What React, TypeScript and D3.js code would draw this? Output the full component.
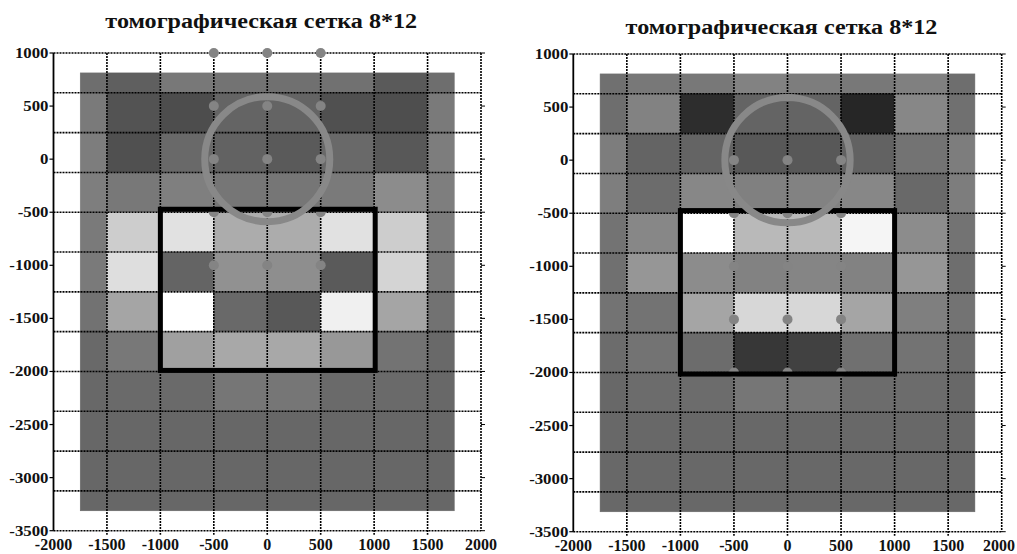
import React from 'react';
import * as d3 from 'd3';

// cell edges of the 8*12 grid (data units)
const colEdges = [-1750, -1500, -1000, -500, 0, 500, 1000, 1500, 1750];
const rowEdges = [812.5, 625, 250, -125, -500, -875, -1250, -1625, -2000, -2375, -2750, -3125, -3312.5];

// dotted grid lines
const gridX = [-1500, -1000, -500, 0, 500, 1000, 1500];
const gridY = [625, 250, -125, -500, -875, -1250, -1625, -2000, -2375, -2750, -3125];

// tick labels
const xTicks = [-2000, -1500, -1000, -500, 0, 500, 1000, 1500, 2000];
const yTicks = [1000, 500, 0, -500, -1000, -1500, -2000, -2500, -3000, -3500];

// gray level of each cell (0 = black, 255 = white), rows top to bottom
const leftCells = [
  [110, 95, 120, 115, 112, 113, 90, 110],
  [122, 83, 77, 100, 100, 80, 78, 122],
  [125, 80, 105, 98, 90, 105, 88, 125],
  [126, 120, 127, 118, 118, 122, 140, 126],
  [122, 205, 225, 172, 172, 225, 205, 124],
  [122, 222, 100, 145, 142, 90, 212, 120],
  [114, 165, 255, 105, 88, 240, 165, 114],
  [105, 120, 160, 168, 168, 152, 115, 105],
  [104, 106, 106, 118, 118, 106, 106, 104],
  [103, 103, 103, 103, 103, 103, 103, 103],
  [103, 103, 103, 103, 103, 103, 103, 103],
  [103, 103, 103, 103, 103, 103, 103, 103],
];

const rightCells = [
  [112, 120, 120, 130, 125, 120, 128, 110],
  [110, 130, 45, 100, 100, 38, 135, 112],
  [125, 100, 100, 88, 88, 98, 115, 125],
  [126, 108, 135, 128, 130, 135, 105, 125],
  [115, 135, 255, 185, 185, 245, 140, 115],
  [112, 150, 140, 130, 133, 130, 150, 110],
  [115, 115, 165, 215, 215, 165, 127, 115],
  [108, 115, 108, 55, 65, 112, 115, 108],
  [104, 108, 108, 118, 118, 108, 108, 104],
  [104, 104, 104, 104, 104, 104, 104, 104],
  [104, 104, 104, 104, 104, 104, 104, 104],
  [104, 104, 104, 104, 104, 104, 104, 104],
];

// receiver points
const dotX = [-500, 0, 500];
const leftDotY = [1000, 500, 0, -500, -1000];
const rightDotY = [0, -500, -1000, -1500, -2000];

// target body outline [x0, x1, yTop, yBottom]
const leftBox = [-1000, 1010, -472, -1990];
const rightBox = [-1000, 1000, -475, -2015];

// circle: center x, center y, radius
const circleDef = [0, 0, 585];

const title = 'томографическая сетка 8*12';

interface PanelProps {
  left: number;
  right: number;
  top: number;
  bottom: number;
  titleY: number;
  cells: number[][];
  dotY: number[];
  box: number[];
}

const font = 'Liberation Serif, Times New Roman, DejaVu Serif, serif';

const Panel: React.FC<PanelProps> = ({ left, right, top, bottom, titleY, cells, dotY, box }) => {
  const x = d3.scaleLinear().domain([-2000, 2000]).range([left, right]);
  const y = d3.scaleLinear().domain([1000, -3500]).range([top, bottom]);
  const dash = '2,1';
  const cx = (left + right) / 2;

  return (
    <g>
      <text
        transform={`translate(${cx - 6},${titleY}) scale(1.15,1)`}
        textAnchor="middle"
        style={{ fontFamily: font, fontWeight: 'bold', fontSize: '21px' }}
        fill="#111"
      >
        {title}
      </text>

      {cells.map((row, i) =>
        row.map((v, j) => (
          <rect
            key={`c${i}-${j}`}
            x={x(colEdges[j])}
            y={y(rowEdges[i])}
            width={x(colEdges[j + 1]) - x(colEdges[j])}
            height={y(rowEdges[i + 1]) - y(rowEdges[i])}
            fill={d3.rgb(v, v, v).toString()}
            stroke={d3.rgb(v, v, v).toString()}
            strokeWidth={0.5}
          />
        ))
      )}

      {gridX.map((g) => (
        <line key={`gx${g}`} x1={x(g)} x2={x(g)} y1={y(1000)} y2={y(-3500) + 4} stroke="#000" strokeWidth={1.6} strokeDasharray={dash} />
      ))}
      {gridY.map((g) => (
        <line key={`gy${g}`} x1={x(-2000)} x2={x(2000)} y1={y(g)} y2={y(g)} stroke="#000" strokeWidth={1.6} strokeDasharray={dash} />
      ))}
      {/* frame */}
      <line x1={x(-2000)} x2={x(2000)} y1={y(1000)} y2={y(1000)} stroke="#000" strokeWidth={1.6} strokeDasharray={dash} />
      <line x1={x(-2000)} x2={x(2000)} y1={y(-3500)} y2={y(-3500)} stroke="#000" strokeWidth={1.6} strokeDasharray={dash} />
      <line x1={x(2000)} x2={x(2000)} y1={y(1000)} y2={y(-3500)} stroke="#000" strokeWidth={1.6} strokeDasharray={dash} />
      <line x1={x(-2000)} x2={x(-2000)} y1={y(1000)} y2={y(-3500)} stroke="#000" strokeWidth={1.8} />

      {yTicks.map((t) => (
        <g key={`yt${t}`}>
          <line x1={x(-2000) - 4} x2={x(-2000)} y1={y(t)} y2={y(t)} stroke="#000" strokeWidth={1.2} />
          <line x1={x(2000)} x2={x(2000) + 4} y1={y(t)} y2={y(t)} stroke="#000" strokeWidth={1} />
          <text
            transform={`translate(${x(-2000) - 5},${y(t) + 5}) scale(1.12,1)`}
            textAnchor="end"
            style={{ fontFamily: font, fontWeight: 'bold', fontSize: '15px' }}
            fill="#111"
          >
            {t}
          </text>
        </g>
      ))}
      {xTicks.map((t) => (
        <text
          key={`xt${t}`}
          transform={`translate(${Math.min(x(t), 999)},${y(-3500) + 19})`}
          textAnchor="middle"
          style={{ fontFamily: font, fontWeight: 'bold', fontSize: '16px' }}
          fill="#111"
        >
          {t}
        </text>
      ))}

      {dotY.map((dy) =>
        dotX.map((dx) => <circle key={`d${dx}_${dy}`} cx={x(dx)} cy={y(dy)} r={5} fill="#848484" />)
      )}

      <rect
        x={x(box[0])}
        y={y(box[2])}
        width={x(box[1]) - x(box[0])}
        height={y(box[3]) - y(box[2])}
        fill="none"
        stroke="#000"
        strokeWidth={5}
      />

      <circle
        cx={x(circleDef[0])}
        cy={y(circleDef[1])}
        r={x(circleDef[2]) - x(0)}
        fill="none"
        stroke="#888"
        strokeWidth={7}
      />
    </g>
  );
};

export default function App() {
  return (
    <svg width={1017} height={554} style={{ position: 'absolute', left: 0, top: 0, background: '#fff' }}>
      <rect width={1017} height={554} fill="#fff" />
      <Panel left={53.5} right={481} top={53} bottom={530.7} titleY={28} cells={leftCells} dotY={leftDotY} box={leftBox} />
      <Panel left={573.3} right={1001.7} top={54} bottom={531.7} titleY={34} cells={rightCells} dotY={rightDotY} box={rightBox} />
    </svg>
  );
}
